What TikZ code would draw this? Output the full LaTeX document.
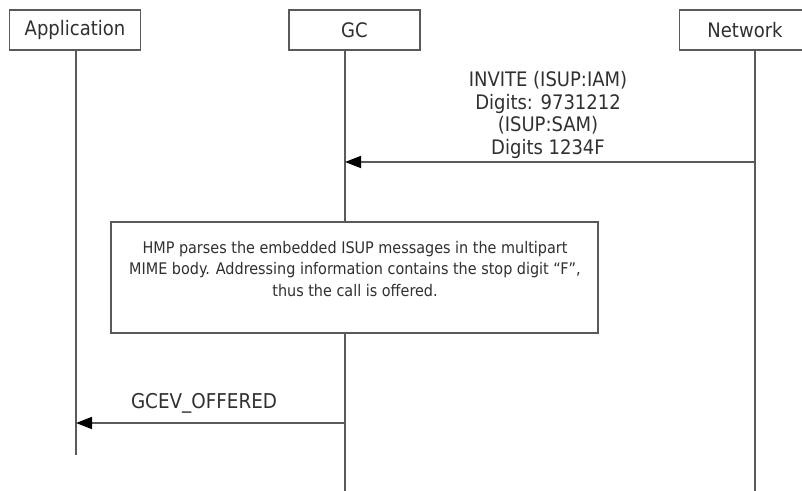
\documentclass[tikz,border=0pt]{standalone}
\usepackage{fontspec}
\setmainfont{DejaVu Sans Condensed}
\usetikzlibrary{arrows.meta}
\definecolor{linegray}{HTML}{5A5A5A}
\definecolor{textgray}{HTML}{303030}
\tikzset{
  actor/.style={draw=linegray, line width=1.3pt, fill=white, minimum width=131*0.75pt, minimum height=40*0.75pt, inner sep=0pt, text=textgray, font=\fontsize{15}{18}\selectfont},
  lifeline/.style={draw=linegray, line width=1.2pt},
  msg/.style={draw=linegray, line width=1.2pt, -{Triangle[length=12pt, width=9pt, color=black]}},
  msglabel/.style={text=textgray, align=center, inner sep=0pt},
  notebox/.style={draw=linegray, line width=1.3pt, fill=white, minimum width=487*0.75pt, minimum height=111*0.75pt, inner sep=0pt},
  notetext/.style={text=textgray, align=center, inner sep=0pt, font=\fontsize{12}{16.1}\selectfont}
}
\begin{document}
\begin{tikzpicture}[x=0.75pt, y=-0.75pt]
\useasboundingbox (0,0) rectangle (802,491);
\clip (0,0) rectangle (802,491);
% lifeline coordinates
\coordinate (appTop) at (76,50);
\coordinate (appBot) at (76,455);
\coordinate (gcTop) at (345,50);
\coordinate (gcBot) at (345,491);
\coordinate (netTop) at (755,50);
\coordinate (netBot) at (755,491);
\coordinate (inviteEnd) at (345,162);
\coordinate (inviteStart) at (755,162);
\coordinate (offStart) at (345,423);
\coordinate (offEnd) at (76,423);
\draw[lifeline] (appTop) -- (appBot);
\draw[lifeline] (gcTop) -- (gcBot);
\draw[lifeline] (netTop) -- (netBot);
% actors
\node[actor] (app) at (75,30) {Application};
\node[actor] (gc) at (354.5,30) {GC};
\node[actor] (net) at (745,30) {Network};
% messages
\draw[msg] (inviteStart) -- (inviteEnd);
\node[msglabel, font=\fontsize{15}{16.9}\selectfont] (invite) at (548,115) {INVITE (ISUP:IAM)\\Digits: 9731212\\(ISUP:SAM)\\Digits 1234F};
% note
\node[notebox] (note) at (354.5,277.5) {};
\node[notetext] (notetxt) at (355,269) {HMP parses the embedded ISUP messages in the multipart\\MIME body. Addressing information contains the stop digit “F”,\\thus the call is offered.};
\draw[msg] (offStart) -- (offEnd);
\node[msglabel, font=\fontsize{15.3}{18}\selectfont] (offered) at (204,403) {GCEV\_OFFERED};
\end{tikzpicture}
\end{document}
